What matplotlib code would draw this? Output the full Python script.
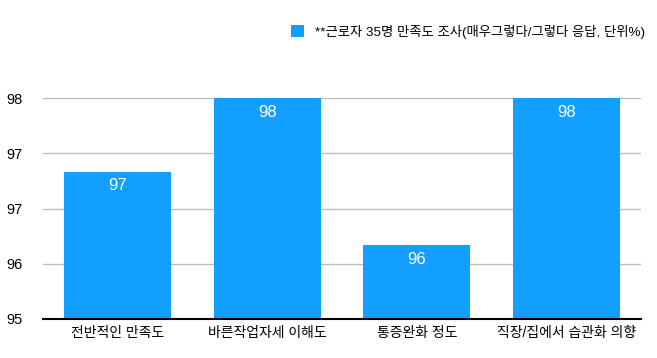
import matplotlib
matplotlib.use("Agg")
import matplotlib.pyplot as plt
from matplotlib.patches import Patch

plt.rcParams['font.family'] = ['Liberation Sans', 'Noto Sans CJK KR', 'DejaVu Sans']

categories = ["전반적인 만족도", "바른작업자세 이해도", "통증완화 정도", "직장/집에서 습관화 의향"]
values = [97, 98, 96, 98]
y_ticks = [95, 95.75, 96.5, 97.25, 98]
y_tick_labels = ["95", "96", "97", "97", "98"]
legend_label = "**근로자 35명 만족도 조사(매우그렇다/그렇다 응답, 단위%)"

BAR_COLOR = "#139fff"

fig = plt.figure(figsize=(6.57, 3.58), dpi=100)
ax = fig.add_axes([0.0647, 0.109, 0.9117, 0.6165])

x = range(len(categories))
bars = ax.bar(x, values, width=0.715, color=BAR_COLOR, bottom=0, zorder=3)

ax.set_ylim(95, 98)
ax.set_xlim(-0.5, len(categories) - 0.5)
ax.set_yticks(y_ticks)
ax.set_yticklabels(y_tick_labels, fontsize=10.5)
ax.set_xticks(list(x))
ax.set_xticklabels(categories, fontsize=10)
ax.tick_params(axis='x', length=0, pad=5)
ax.tick_params(axis='y', length=0, pad=14)

ax.yaxis.grid(True, color="#bdbdbd", linewidth=1, zorder=0)
for side in ["left", "right", "top"]:
    ax.spines[side].set_visible(False)
ax.spines["bottom"].set_linewidth(1.5)
ax.spines["bottom"].set_zorder(4)

for i, v in enumerate(values):
    ax.annotate(str(v), (i, v), xytext=(0, -10), textcoords="offset points",
                ha="center", va="center", color="white", fontsize=12, zorder=5)

handle = Patch(facecolor=BAR_COLOR, edgecolor="none")
fig.legend([handle], [legend_label], loc="upper right",
           bbox_to_anchor=(1.0, 0.965), frameon=False, fontsize=9.6,
           handlelength=0.95, handleheight=0.95, handletextpad=0.85)

fig.savefig("out.png", dpi=100)
